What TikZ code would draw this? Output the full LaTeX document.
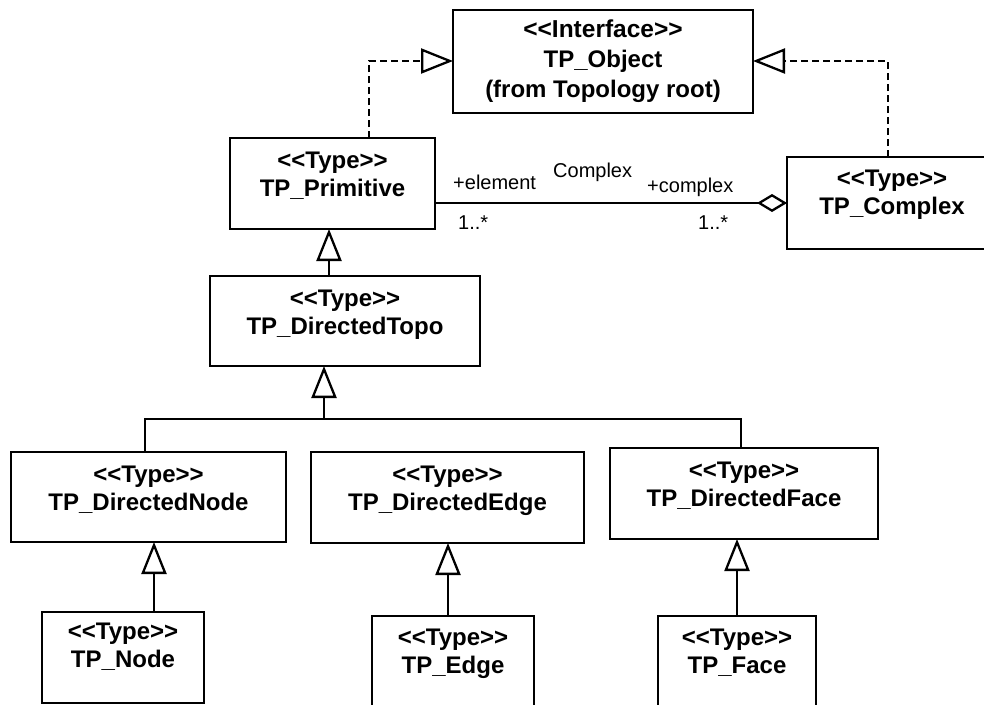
\documentclass[tikz,border=0pt]{standalone}
\usepackage{fontspec}
\setmainfont{Liberation Sans}
\usetikzlibrary{arrows.meta}
\newcommand\clsfont{\bfseries\fontsize{24}{28}\selectfont}
\newcommand\objfont{\bfseries\fontsize{24.5}{30}\selectfont}
\newcommand\lblfont{\fontsize{20}{24}\selectfont}
\newcommand\umlclass[7]{%
  \node[cls, minimum width=#4pt, minimum height=#5pt] (#1) at (#2,#3) {};
  \node[clstext] (#1-t) at ([yshift=-#7pt+20pt]#1.north) {\rule{0pt}{20pt}#6};
}
\newcommand\tp{<{}<Type>{}>}
\begin{document}
\begin{tikzpicture}[x=1pt,y=-1pt,
  cls/.style={draw, line width=2.7pt, rectangle, outer sep=0pt, inner sep=0pt, anchor=north west},
  clstext/.style={align=center, anchor=north, inner sep=0pt, font=\clsfont},
  lbl/.style={anchor=base west, inner sep=0pt, font=\lblfont},
  gen/.style={-{Triangle[open,length=32pt,width=25pt,line width=2.3pt]}, line width=2.3pt},
  real/.style={gen, dash pattern=on 7pt off 4pt},
  assoc/.style={-{Diamond[open,length=30pt,width=18pt,line width=2.3pt]}, line width=2.3pt},
]
\path[use as bounding box] (0,0) rectangle (984,704);
\clip (0,0) rectangle (984,704);

\umlclass{obj}{453}{10}{300}{103}{\objfont <{}<Interface>{}>\\[2pt]TP\_Object\\[2pt](from Topology root)}{27}
\umlclass{prim}{230}{138}{205}{91}{\tp\\TP\_Primitive}{30}
\umlclass{cplx}{787}{157}{210}{92}{\tp\\TP\_Complex}{29}
\umlclass{topo}{210}{276}{270}{90}{\tp\\TP\_DirectedTopo}{30}
\umlclass{dnode}{11}{452}{275}{90}{\tp\\TP\_DirectedNode}{30}
\umlclass{dedge}{311}{452}{273}{91}{\tp\\TP\_DirectedEdge}{30}
\umlclass{dface}{610}{448}{268}{91}{\tp\\TP\_DirectedFace}{30}
\umlclass{node}{42}{612}{162}{91}{\tp\\TP\_Node}{27}
\umlclass{edge}{372}{616}{162}{100}{\tp\\TP\_Edge}{29}
\umlclass{face}{658}{616}{158}{100}{\tp\\TP\_Face}{29}

% helper coordinates
\coordinate (yr) at (0,61);
\coordinate (xr1) at (369,0);
\coordinate (xr2) at (888,0);
\coordinate (ya) at (0,203);
\coordinate (xp) at (329,0);
\coordinate (xt) at (324,0);
\coordinate (bus) at (0,419);
\coordinate (xb1) at (145,0);
\coordinate (xb2) at (741,0);
\coordinate (xn) at (154,0);
\coordinate (xe) at (448,0);
\coordinate (xf) at (737,0);

% realizations
\draw[real] (prim.north -| xr1) |- (obj.west |- yr);
\draw[real] (cplx.north -| xr2) |- (obj.east |- yr);

% association
\draw[assoc] (prim.east |- ya) -- (cplx.west |- ya);
\node[lbl] (l1) at (453,189) {+element};
\node[lbl] (l2) at (553,177) {Complex};
\node[lbl] (l3) at (647,192) {+complex};
\node[lbl] (l4) at (458,229) {1..*};
\node[lbl] (l5) at (698,229) {1..*};

% generalizations
\draw[gen] (topo.north -| xp) -- (prim.south -| xp);
\draw[line width=2.3pt] (dnode.north -| xb1) -- (xb1 |- bus) -- (xb2 |- bus) -- (dface.north -| xb2);
\draw[gen] (xt |- bus) -- (topo.south -| xt);
\draw[gen] (node.north -| xn) -- (dnode.south -| xn);
\draw[gen] (edge.north -| xe) -- (dedge.south -| xe);
\draw[gen] (face.north -| xf) -- (dface.south -| xf);
\end{tikzpicture}
\end{document}
